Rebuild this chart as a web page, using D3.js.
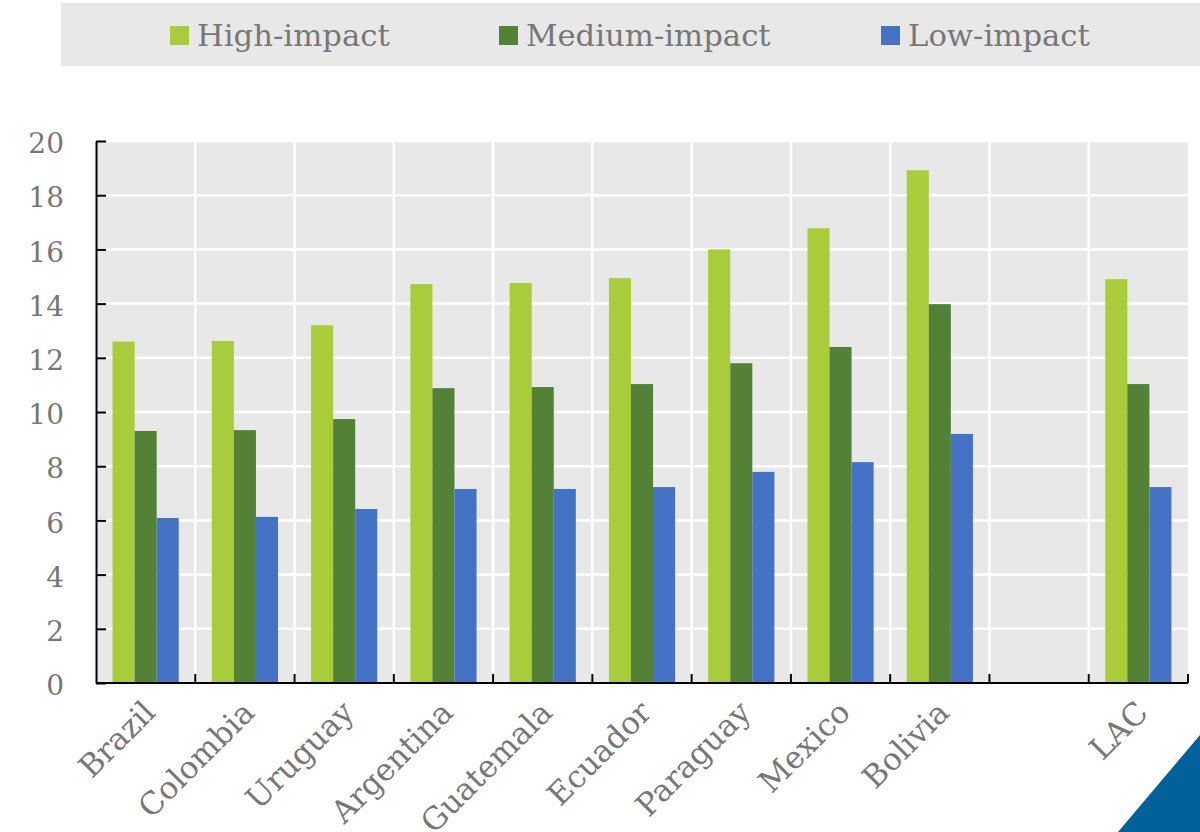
<!DOCTYPE html>
<html>
<head>
<meta charset="utf-8">
<script src="https://cdn.jsdelivr.net/npm/d3@7"></script>
<style>
  html, body { margin: 0; padding: 0; background: #fff; }
  svg { display: block; }
</style>
</head>
<body>
<svg id="chart" width="1200" height="832"></svg>
<script>
// Categories along the x axis (empty slot separates the regional average)
const categories = ["Brazil", "Colombia", "Uruguay", "Argentina", "Guatemala", "Ecuador", "Paraguay", "Mexico", "Bolivia", "", "LAC"];
const seriesNames = ["High-impact", "Medium-impact", "Low-impact"];
const highImpact   = [12.6, 12.62, 13.2, 14.72, 14.76, 14.94, 16.0, 16.78, 18.92, null, 14.9];
const mediumImpact = [9.3, 9.33, 9.74, 10.88, 10.92, 11.03, 11.8, 12.4, 13.98, null, 11.03];
const lowImpact    = [6.09, 6.13, 6.42, 7.16, 7.16, 7.23, 7.79, 8.15, 9.19, null, 7.23];
const yTicks = [0, 2, 4, 6, 8, 10, 12, 14, 16, 18, 20];

const colors = ["#a8cc3a", "#538135", "#4472c4"];
const font = "'DejaVu Serif', 'Liberation Serif', serif";
const textColor = "#777777";

const svg = d3.select("#chart");
const plotLeft = 96, plotRight = 1188, plotTop = 141, plotBottom = 683;

const x0 = d3.scaleBand().domain(d3.range(categories.length)).range([plotLeft, plotRight]).padding(0);
const x1 = d3.scaleBand().domain(seriesNames).range([0, x0.bandwidth()]).paddingInner(0).paddingOuter(0.75);
const y = d3.scaleLinear().domain([0, 20]).range([plotBottom, plotTop]);
const color = d3.scaleOrdinal().domain(seriesNames).range(colors);

// Legend strip
svg.append("rect").attr("x", 61).attr("y", 3).attr("width", 1139).attr("height", 63).attr("fill", "#e8e8e8");
const legendX = [170, 499, 881];
seriesNames.forEach((s, i) => {
  const g = svg.append("g").attr("transform", `translate(${legendX[i]},0)`);
  g.append("rect").attr("x", 0).attr("y", 26).attr("width", 19).attr("height", 19).attr("fill", color(s));
  g.append("text").attr("x", 27).attr("y", 46).attr("font-family", font).attr("font-size", 30.7)
    .attr("fill", textColor).text(s);
});

// Plot background
svg.append("rect").attr("x", plotLeft).attr("y", plotTop).attr("width", plotRight - plotLeft).attr("height", plotBottom - plotTop).attr("fill", "#e8e8e8");

// Horizontal gridlines
svg.append("g").selectAll("line").data(yTicks.filter(t => t > 0)).join("line")
  .attr("x1", plotLeft).attr("x2", plotRight).attr("y1", d => y(d)).attr("y2", d => y(d))
  .attr("stroke", "#fff").attr("stroke-width", 2.5);

// Vertical gridlines at category boundaries
const bounds = d3.range(1, categories.length).map(i => x0(i));
svg.append("g").selectAll("line").data(bounds).join("line")
  .attr("x1", d => d).attr("x2", d => d).attr("y1", plotTop).attr("y2", plotBottom)
  .attr("stroke", "#fff").attr("stroke-width", 2.5);

// Bars
const seriesData = [highImpact, mediumImpact, lowImpact];
const groups = svg.append("g").selectAll("g").data(categories.map((c, i) => i)).join("g")
  .attr("transform", i => `translate(${x0(i)},0)`);
groups.selectAll("rect")
  .data(i => seriesNames.map((s, k) => ({ s, v: seriesData[k][i] })).filter(d => d.v != null))
  .join("rect")
  .attr("x", d => x1(d.s)).attr("width", x1.bandwidth())
  .attr("y", d => y(d.v)).attr("height", d => y(0) - y(d.v))
  .attr("fill", d => color(d.s));

// Y axis
const yAxis = svg.append("g").attr("transform", `translate(${plotLeft},0)`)
  .call(d3.axisLeft(y).tickValues(yTicks).tickSizeInner(-10).tickSizeOuter(0).tickPadding(32));
yAxis.select(".domain").attr("stroke", "#000").attr("stroke-width", 2);
yAxis.selectAll(".tick line").attr("stroke", "#000").attr("stroke-width", 2);
yAxis.selectAll(".tick text").attr("font-family", font).attr("font-size", 28).attr("fill", textColor).attr("dy", "0.42em");

// X axis baseline and boundary ticks
const xAxis = svg.append("g").attr("transform", `translate(0,${plotBottom})`);
xAxis.append("line").attr("x1", plotLeft).attr("x2", plotRight).attr("stroke", "#000").attr("stroke-width", 2);
xAxis.selectAll("line.tk").data(bounds.concat([plotRight])).join("line").attr("class", "tk")
  .attr("x1", d => d).attr("x2", d => d).attr("y1", 0).attr("y2", -9)
  .attr("stroke", "#000").attr("stroke-width", 2);
xAxis.selectAll("text").data(categories.map((c, i) => ({ c, i }))).join("text")
  .attr("transform", d => `translate(${x0(d.i) + x0.bandwidth() / 2 - 4},${16}) rotate(-45)`)
  .attr("text-anchor", "end").attr("dy", "0.7em")
  .attr("font-family", font).attr("font-size", 31).attr("fill", textColor)
  .text(d => d.c);

// Corner accent
svg.append("path").attr("d", "M1118,832 L1200,735 L1200,832 Z").attr("fill", "#006299");
</script>
</body>
</html>
